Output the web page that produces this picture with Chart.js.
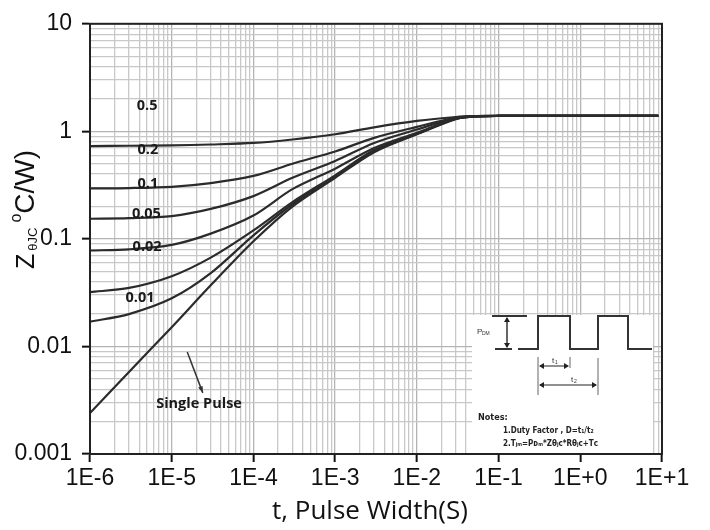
<!DOCTYPE html>
<html>
<head>
<meta charset="utf-8">
<script src="https://cdn.jsdelivr.net/npm/chart.js@4.4.0/dist/chart.umd.min.js"></script>
<style>
  html, body { margin: 0; padding: 0; background: #fff; }
</style>
</head>
<body>
<canvas id="zthChart" width="710" height="530"></canvas>
<script>
// Pulse width (s) sampling points, shared by all curves
const pulseWidth = [1e-6, 3e-6, 1e-5, 3e-5, 1e-4, 3e-4, 1e-3, 3e-3, 1e-2, 3e-2, 5e-2, 1e-1, 1, 9];

// Z(theta)JC in degC/W
const duty05      = [0.73, 0.735, 0.74, 0.755, 0.78, 0.84, 0.94, 1.09, 1.25, 1.36, 1.385, 1.39, 1.39, 1.39];
const duty02      = [0.295, 0.297, 0.305, 0.33, 0.385, 0.50, 0.65, 0.87, 1.10, 1.34, 1.38, 1.39, 1.39, 1.39];
const duty01      = [0.154, 0.156, 0.163, 0.19, 0.25, 0.37, 0.53, 0.78, 1.04, 1.33, 1.38, 1.39, 1.39, 1.39];
const duty005     = [0.078, 0.080, 0.088, 0.112, 0.165, 0.29, 0.45, 0.70, 0.97, 1.32, 1.38, 1.39, 1.39, 1.39];
const duty002     = [0.032, 0.035, 0.045, 0.067, 0.12, 0.22, 0.39, 0.67, 0.95, 1.31, 1.375, 1.39, 1.39, 1.39];
const duty001     = [0.017, 0.020, 0.028, 0.048, 0.108, 0.21, 0.38, 0.66, 0.95, 1.31, 1.375, 1.39, 1.39, 1.39];
const singlePulse = [0.0024, 0.0058, 0.0151, 0.037, 0.095, 0.20, 0.37, 0.64, 0.94, 1.30, 1.375, 1.39, 1.39, 1.39];

const seriesNames = ['0.5', '0.2', '0.1', '0.05', '0.02', '0.01', 'Single Pulse'];
const seriesValues = [duty05, duty02, duty01, duty005, duty002, duty001, singlePulse];

const xTickLabels = ['1E-6', '1E-5', '1E-4', '1E-3', '1E-2', '1E-1', '1E+0', '1E+1'];
const yTickLabels = ['0.001', '0.01', '0.1', '1', '10'];

// helpers for decade checks
function isDecade(v) {
    const l = Math.log10(v);
    return Math.abs(l - Math.round(l)) < 1e-6;
}
function decadeTicks(firstExp, lastExp) {
    const t = [];
    for (let e = firstExp; e <= lastExp; e++) {
        for (let m = 1; m <= 9; m++) {
            if (e === lastExp && m > 1) break;
            t.push({ value: m * Math.pow(10, e), major: m === 1 });
        }
    }
    return t;
}

// text labels next to the curves (data coordinates)
const curveTags = [
    { text: '0.5',  t: 5.0e-6, z: 1.74 },
    { text: '0.2',  t: 5.1e-6, z: 0.667 },
    { text: '0.1',  t: 5.1e-6, z: 0.324 },
    { text: '0.05', t: 4.9e-6, z: 0.171 },
    { text: '0.02', t: 5.0e-6, z: 0.085 },
    { text: '0.01', t: 4.1e-6, z: 0.028 },
    { text: 'Single Pulse', t: 2.16e-5, z: 0.0029 }
];

const decorPlugin = {
    id: 'decor',
    beforeDatasetsDraw(chart) {
        const ctx = chart.ctx, ca = chart.chartArea;
        // white inset box with the pulse diagram
        const bx = ca.right - 190, by = ca.bottom - 139;
        ctx.save();
        ctx.fillStyle = '#fff';
        ctx.fillRect(bx, by, 181, 138);

        ctx.strokeStyle = '#333';
        ctx.lineWidth = 2;
        ctx.beginPath();
        ctx.moveTo(bx + 20, by + 1); ctx.lineTo(bx + 55, by + 1);
        ctx.moveTo(bx + 23, by + 34); ctx.lineTo(bx + 40, by + 34);
        ctx.moveTo(bx + 46, by + 34); ctx.lineTo(bx + 66, by + 34);
        ctx.lineTo(bx + 66, by + 1); ctx.lineTo(bx + 98, by + 1);
        ctx.lineTo(bx + 98, by + 34); ctx.lineTo(bx + 126, by + 34);
        ctx.lineTo(bx + 126, by + 1); ctx.lineTo(bx + 156, by + 1);
        ctx.lineTo(bx + 156, by + 34); ctx.lineTo(bx + 180, by + 34);
        ctx.stroke();

        function arrowHead(x, y, dir) {
            ctx.beginPath();
            const s = 5, w = 3;
            if (dir === 'up') { ctx.moveTo(x, y); ctx.lineTo(x - w, y + s); ctx.lineTo(x + w, y + s); }
            if (dir === 'down') { ctx.moveTo(x, y); ctx.lineTo(x - w, y - s); ctx.lineTo(x + w, y - s); }
            if (dir === 'left') { ctx.moveTo(x, y); ctx.lineTo(x + s, y - w); ctx.lineTo(x + s, y + w); }
            if (dir === 'right') { ctx.moveTo(x, y); ctx.lineTo(x - s, y - w); ctx.lineTo(x - s, y + w); }
            ctx.closePath();
            ctx.fill();
        }
        ctx.fillStyle = '#222';
        ctx.lineWidth = 1.5;
        ctx.beginPath();
        ctx.moveTo(bx + 35, by + 3); ctx.lineTo(bx + 35, by + 32);
        ctx.stroke();
        arrowHead(bx + 35, by + 2, 'up');
        arrowHead(bx + 35, by + 33, 'down');

        ctx.strokeStyle = '#999';
        ctx.lineWidth = 1.5;
        ctx.beginPath();
        ctx.moveTo(bx + 66, by + 42); ctx.lineTo(bx + 66, by + 80);
        ctx.moveTo(bx + 98, by + 42); ctx.lineTo(bx + 98, by + 53);
        ctx.moveTo(bx + 126, by + 43); ctx.lineTo(bx + 126, by + 80);
        ctx.stroke();
        ctx.strokeStyle = '#222';
        ctx.lineWidth = 1.2;
        ctx.beginPath();
        ctx.moveTo(bx + 68, by + 51); ctx.lineTo(bx + 96, by + 51);
        ctx.moveTo(bx + 68, by + 70); ctx.lineTo(bx + 124, by + 70);
        ctx.stroke();
        arrowHead(bx + 67, by + 51, 'left');
        arrowHead(bx + 97, by + 51, 'right');
        arrowHead(bx + 67, by + 70, 'left');
        arrowHead(bx + 125, by + 70, 'right');

        ctx.fillStyle = '#333';
        ctx.textBaseline = 'middle';
        ctx.textAlign = 'left';
        ctx.font = '8px "Liberation Sans", sans-serif';
        ctx.fillText('P', bx + 5, by + 17);
        ctx.font = '5px "Liberation Sans", sans-serif';
        ctx.fillText('DM', bx + 10, by + 19);
        ctx.font = '8px "Liberation Sans", sans-serif';
        ctx.fillText('t', bx + 80, by + 46);
        ctx.fillText('t', bx + 99, by + 65);
        ctx.font = '5px "Liberation Sans", sans-serif';
        ctx.fillText('1', bx + 83, by + 48);
        ctx.fillText('2', bx + 102, by + 67);

        ctx.fillStyle = '#222';
        ctx.font = 'bold 9px "Liberation Sans Narrow", "DejaVu Sans Condensed", sans-serif';
        ctx.fillText('Notes:', bx + 6, by + 103);
        ctx.font = 'bold 8px "Liberation Sans Narrow", "DejaVu Sans Condensed", sans-serif';
        ctx.fillText('1.Duty Factor , D=t\u2081/t\u2082', bx + 31, by + 116);
        ctx.fillText('2.T\u2c7c\u2098=P\u1d05\u2098*Z\u03b8\u2c7c\u1d04*R\u03b8\u2c7c\u1d04+T\u1d04', bx + 31, by + 129);
        ctx.restore();
    },
    afterDatasetsDraw(chart) {
        const ctx = chart.ctx, ca = chart.chartArea;
        const xs = chart.scales.x, ys = chart.scales.y;
        ctx.save();
        // plot frame
        ctx.strokeStyle = '#222';
        ctx.lineWidth = 2;
        ctx.strokeRect(ca.left, ca.top, ca.right - ca.left, ca.bottom - ca.top);

        // curve tags
        ctx.fillStyle = '#1a1a1a';
        ctx.textAlign = 'center';
        ctx.textBaseline = 'middle';
        ctx.font = 'bold 14.5px "Open Sans", sans-serif';
        curveTags.forEach(tag => {
            ctx.fillText(tag.text, xs.getPixelForValue(tag.t), ys.getPixelForValue(tag.z));
        });
        // arrow pointing to single pulse curve
        const x1 = xs.getPixelForValue(1.55e-5), y1 = ys.getPixelForValue(0.0089);
        const x2 = xs.getPixelForValue(2.4e-5), y2 = ys.getPixelForValue(0.0037);
        ctx.strokeStyle = '#333';
        ctx.lineWidth = 1.5;
        ctx.beginPath();
        ctx.moveTo(x1, y1); ctx.lineTo(x2, y2);
        ctx.stroke();
        const ang = Math.atan2(y2 - y1, x2 - x1);
        ctx.beginPath();
        ctx.moveTo(x2, y2);
        ctx.lineTo(x2 - 7 * Math.cos(ang - 0.35), y2 - 7 * Math.sin(ang - 0.35));
        ctx.lineTo(x2 - 7 * Math.cos(ang + 0.35), y2 - 7 * Math.sin(ang + 0.35));
        ctx.closePath();
        ctx.fillStyle = '#333';
        ctx.fill();

        // axis titles
        ctx.fillStyle = '#111';
        ctx.textAlign = 'center';
        ctx.textBaseline = 'alphabetic';
        ctx.font = '26px "Open Sans", sans-serif';
        ctx.fillText('t, Pulse Width(S)', 370, 519);

        ctx.translate(34, 269);
        ctx.rotate(-Math.PI / 2);
        ctx.textAlign = 'left';
        ctx.font = '25px "Liberation Sans", sans-serif';
        ctx.fillText('Z', 0, 0);
        let w = ctx.measureText('Z').width + 3;
        ctx.font = '13px "Liberation Sans", sans-serif';
        ctx.fillText('\u03b8JC', w, 3);
        w += ctx.measureText('\u03b8JC').width + 5;
        ctx.font = '16px "Liberation Sans", sans-serif';
        ctx.fillText('o', w, -13);
        w += ctx.measureText('o').width;
        ctx.font = '28px "Liberation Sans", sans-serif';
        ctx.fillText('C/W)', w, 0);
        ctx.restore();
    }
};

const ctx = document.getElementById('zthChart').getContext('2d');
const zthChart = new Chart(ctx, {
    type: 'line',
    data: {
        datasets: seriesNames.map((name, i) => ({
            label: name,
            data: pulseWidth.map((t, k) => ({ x: t, y: seriesValues[i][k] })),
            borderColor: '#2b2b2b',
            borderWidth: 2.2,
            pointRadius: 0,
            fill: false,
            tension: 0.3
        }))
    },
    options: {
        responsive: false,
        animation: false,
        layout: { padding: { top: 21, right: 48, left: 0, bottom: 0 } },
        plugins: {
            legend: { display: false },
            tooltip: { enabled: false }
        },
        scales: {
            x: {
                type: 'logarithmic',
                min: 1e-6,
                max: 10,
                afterBuildTicks: scale => { scale.ticks = decadeTicks(-6, 1); },
                afterFit: scale => { scale.height = 76; },
                ticks: {
                    autoSkip: false,
                    maxRotation: 0,
                    padding: 3,
                    color: '#111',
                    font: { family: '"Liberation Sans", Arial, sans-serif', size: 23 },
                    callback: v => isDecade(v) ? xTickLabels[Math.round(Math.log10(v)) + 6] : ''
                },
                grid: {
                    color: c => (c.tick && isDecade(c.tick.value)) ? '#b4b4b4' : '#c8c8c8',
                    lineWidth: 1.3,
                    tickLength: 8,
                    tickColor: c => (c.tick && isDecade(c.tick.value)) ? '#111' : 'rgba(0,0,0,0)',
                    tickWidth: 2
                },
                border: { color: '#111', width: 2 }
            },
            y: {
                type: 'logarithmic',
                min: 0.001,
                max: 10,
                afterBuildTicks: scale => { scale.ticks = decadeTicks(-3, 1); },
                afterFit: scale => { scale.width = 90; },
                ticks: {
                    autoSkip: false,
                    padding: 10,
                    color: '#111',
                    font: { family: '"Liberation Sans", Arial, sans-serif', size: 23 },
                    callback: v => isDecade(v) ? yTickLabels[Math.round(Math.log10(v)) + 3] : ''
                },
                grid: {
                    color: c => (c.tick && isDecade(c.tick.value)) ? '#b4b4b4' : '#c8c8c8',
                    lineWidth: 1.3,
                    tickLength: 8,
                    tickColor: c => (c.tick && isDecade(c.tick.value)) ? '#111' : 'rgba(0,0,0,0)',
                    tickWidth: 2
                },
                border: { color: '#111', width: 2 }
            }
        }
    },
    plugins: [decorPlugin]
});
</script>
</body>
</html>
